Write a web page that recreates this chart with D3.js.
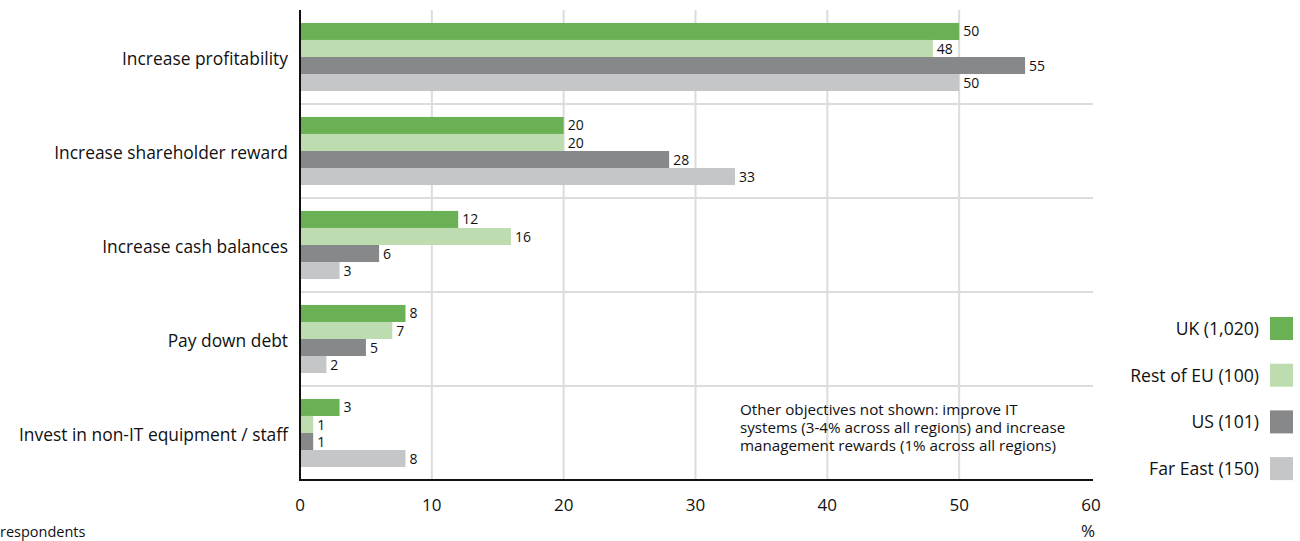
<!DOCTYPE html>
<html>
<head>
<meta charset="utf-8">
<script src="https://cdn.jsdelivr.net/npm/d3@7"></script>
<style>
  html, body { margin: 0; padding: 0; background: #fff; }
  svg { display: block; font-family: "Open Sans", "Noto Sans", sans-serif; }
</style>
</head>
<body>
<svg id="chart" width="1300" height="541"></svg>
<script>
// Objectives, top to bottom
const categories = [
  "Increase profitability",
  "Increase shareholder reward",
  "Increase cash balances",
  "Pay down debt",
  "Invest in non-IT equipment / staff"
];

// Regions (sample size in brackets)
const seriesNames = ["UK (1,020)", "Rest of EU (100)", "US (101)", "Far East (150)"];
const seriesColors = ["#6ab155", "#bddcb0", "#87888a", "#c5c6c8"];

// Percentage of respondents, one array per region, in category order
const ukValues      = [50, 20, 12, 8, 3];
const restEuValues  = [48, 20, 16, 7, 1];
const usValues      = [55, 28, 6, 5, 1];
const farEastValues = [50, 33, 3, 2, 8];
const seriesValues = [ukValues, restEuValues, usValues, farEastValues];

const xTicks = [0, 10, 20, 30, 40, 50, 60];

const noteLines = [
  "Other objectives not shown: improve IT",
  "systems (3-4% across all regions) and increase",
  "management rewards (1% across all regions)"
];

const svg = d3.select("#chart");

const plotLeft = 300, plotRight = 1091, plotTop = 10, plotBottom = 480, axisEnd = 1093;

const x = d3.scaleLinear().domain([0, 60]).range([plotLeft, plotRight]);
const y0 = d3.scaleBand().domain(categories).range([plotTop, plotBottom]).paddingInner(0).paddingOuter(0);
const y1 = d3.scaleBand().domain(seriesNames).range([0, y0.bandwidth()]).paddingInner(0).paddingOuter(0.76);

// Vertical gridlines
svg.append("g")
  .selectAll("line")
  .data(xTicks.filter(t => t > 0 && t < 60))
  .join("line")
  .attr("x1", d => x(d)).attr("x2", d => x(d))
  .attr("y1", plotTop).attr("y2", plotBottom)
  .attr("stroke", "#dcdcdc").attr("stroke-width", 2);

// Horizontal separators between categories
svg.append("g")
  .selectAll("line")
  .data(categories.slice(1))
  .join("line")
  .attr("x1", plotLeft).attr("x2", axisEnd)
  .attr("y1", d => y0(d)).attr("y2", d => y0(d))
  .attr("stroke", "#dcdcdc").attr("stroke-width", 2);

// Bars and value labels
const rows = [];
categories.forEach((c, ci) => {
  seriesNames.forEach((s, si) => {
    rows.push({ cat: c, series: s, value: seriesValues[si][ci], color: seriesColors[si] });
  });
});

svg.append("g")
  .selectAll("rect")
  .data(rows)
  .join("rect")
  .attr("x", x(0))
  .attr("y", d => y0(d.cat) + y1(d.series))
  .attr("width", d => x(d.value) - x(0))
  .attr("height", y1.bandwidth())
  .attr("fill", d => d.color);

svg.append("g")
  .selectAll("text")
  .data(rows)
  .join("text")
  .attr("x", d => x(d.value) + 4)
  .attr("y", d => y0(d.cat) + y1(d.series) + y1.bandwidth() / 2)
  .attr("dy", "0.36em")
  .attr("font-size", 14)
  .attr("fill", "#111")
  .text(d => d.value);

// Category labels
svg.append("g")
  .selectAll("text")
  .data(categories)
  .join("text")
  .attr("x", 288)
  .attr("y", d => y0(d) + y0.bandwidth() / 2 + 2)
  .attr("dy", "0.36em")
  .attr("text-anchor", "end")
  .attr("font-size", 17.4)
  .attr("fill", "#111")
  .text(d => d);

// Axis lines
svg.append("line")
  .attr("x1", plotLeft).attr("x2", plotLeft)
  .attr("y1", plotTop).attr("y2", plotBottom + 1)
  .attr("stroke", "#111").attr("stroke-width", 2);
svg.append("line")
  .attr("x1", plotLeft - 1).attr("x2", axisEnd)
  .attr("y1", plotBottom).attr("y2", plotBottom)
  .attr("stroke", "#111").attr("stroke-width", 2);

// X tick labels
svg.append("g")
  .selectAll("text")
  .data(xTicks)
  .join("text")
  .attr("x", d => x(d))
  .attr("y", 505)
  .attr("dy", "0.36em")
  .attr("text-anchor", "middle")
  .attr("font-size", 17)
  .attr("fill", "#111")
  .text(d => d);

svg.append("text")
  .attr("x", axisEnd + 2).attr("y", 531)
  .attr("dy", "0.36em")
  .attr("text-anchor", "end")
  .attr("font-size", 17)
  .attr("fill", "#111")
  .text("%");

svg.append("text")
  .attr("x", 0).attr("y", 532)
  .attr("dy", "0.36em")
  .attr("font-size", 14.5)
  .attr("fill", "#111")
  .text("respondents");

// Note
svg.append("g")
  .selectAll("text")
  .data(noteLines)
  .join("text")
  .attr("x", 740)
  .attr("y", (d, i) => 410 + i * 18)
  .attr("dy", "0.36em")
  .attr("font-size", 15.2)
  .attr("fill", "#111")
  .text(d => d);

// Legend
const legend = svg.append("g")
  .selectAll("g")
  .data(seriesNames)
  .join("g")
  .attr("transform", (d, i) => `translate(0, ${328.5 + i * 46.7})`);

legend.append("rect")
  .attr("x", 1270).attr("y", -11.5)
  .attr("width", 23).attr("height", 23)
  .attr("fill", (d, i) => seriesColors[i]);

legend.append("text")
  .attr("x", 1259).attr("y", 0)
  .attr("dy", "0.36em")
  .attr("text-anchor", "end")
  .attr("font-size", 17.6)
  .attr("fill", "#111")
  .text(d => d);
</script>
</body>
</html>
